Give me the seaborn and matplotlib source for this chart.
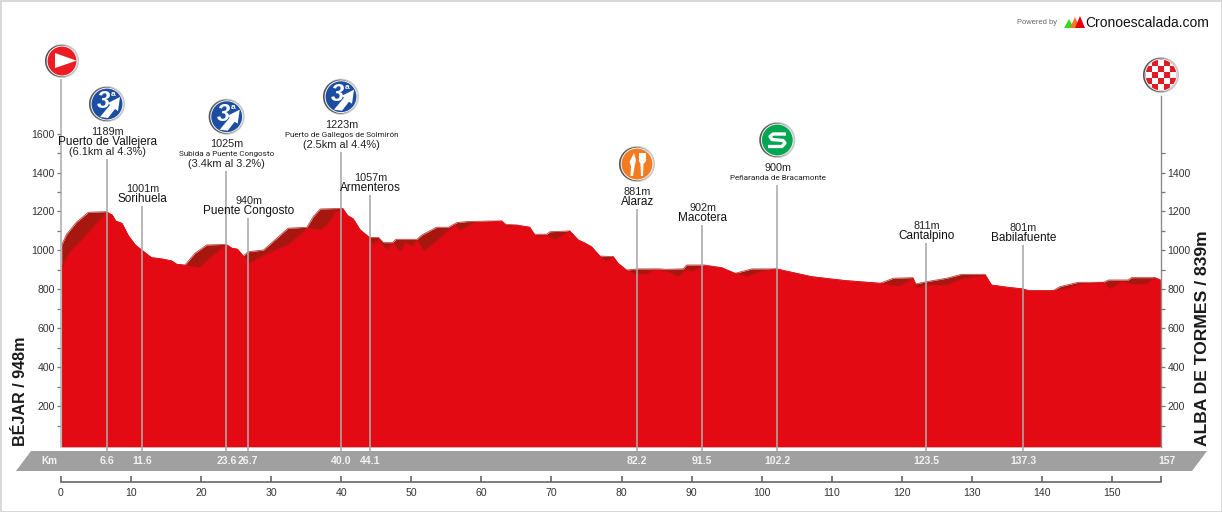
import numpy as np
import pandas as pd
import seaborn as sns
import matplotlib.pyplot as plt
from matplotlib.patches import Circle, Polygon, Rectangle

# outline of the back of the ribbon (the dark shadow shows between this and the front)
km_top = [0.1, 0.8, 2.2, 3.9, 6.5, 7.3, 7.8, 8.7, 9.6, 10.6, 11.5, 12.9, 14.4, 15.8, 16.5, 17.7, 19.1, 20.8, 23.6,
          24.4, 25.2, 26.0, 26.7, 28.9, 32.4, 35.1, 36.0, 37.0, 40.2, 40.9, 41.7, 42.7, 44.0, 45.3, 46.0, 47.3, 47.8,
          50.8, 51.5, 53.6, 55.3, 56.5, 57.9, 61.0, 62.9, 63.5, 65.0, 66.9, 67.6, 69.3, 69.8, 72.6, 73.8, 74.8, 75.7,
          76.9, 78.8, 79.5, 80.7, 82.4, 85.5, 86.2, 88.8, 89.3, 91.9, 94.3, 96.2, 98.6, 102.1, 107.1, 111.9, 116.9,
          118.8, 121.6, 122.0, 123.5, 126.4, 128.5, 131.9, 132.8, 135.2, 137.3, 138.1, 141.6, 142.6, 145.2, 148.8,
          149.5, 152.3, 152.8, 156.1, 156.9]
elev_top = [1028, 1083, 1145, 1196, 1199, 1182, 1151, 1139, 1076, 1028, 1002, 963, 956, 946, 929, 925, 985, 1028, 1031,
            1011, 1006, 971, 993, 1002, 1114, 1119, 1173, 1213, 1216, 1179, 1162, 1105, 1067, 1067, 1040, 1040, 1057,
            1057, 1079, 1119, 1119, 1143, 1148, 1151, 1151, 1134, 1131, 1119, 1083, 1083, 1096, 1100, 1054, 1037, 1019,
            971, 968, 934, 899, 905, 905, 903, 905, 925, 925, 911, 882, 905, 905, 865, 845, 831,
            857, 860, 828, 839, 857, 877, 877, 822, 810, 802, 793, 793, 814, 836, 836,
            848, 848, 860, 860, 848]

# front surface of the ribbon
km_front = [0.1, 1.3, 3.2, 6.5, 7.3, 7.8, 8.7, 9.6, 10.6, 11.5, 12.9, 14.4, 15.8, 16.5, 17.7, 19.8, 21.5, 23.6,
            24.4, 25.2, 26.0, 27.0, 28.2, 29.6, 32.4, 35.3, 37.0, 38.1, 39.1, 40.2, 40.9, 41.7, 42.7, 44.0, 44.5, 45.3,
            46.5, 47.3, 48.4, 49.2, 50.2, 50.8, 51.8, 54.1, 56.2, 56.9, 59.1, 61.0, 62.9, 63.5, 65.0, 66.9, 67.6, 69.3,
            70.5, 72.6, 73.8, 74.8, 75.7, 76.9, 77.7, 78.8, 79.5, 80.7, 81.9, 83.6, 84.5, 86.2, 88.1, 89.3, 90.0, 91.9,
            94.3, 96.2, 97.9, 100.0, 102.1, 107.1, 111.9, 116.9, 119.7, 121.6, 122.0, 123.5, 126.4, 128.5, 131.9, 132.8,
            135.2, 137.3, 138.1, 141.6, 143.5, 145.4, 148.8, 149.7, 151.4, 152.8, 154.9, 156.1, 156.9]
elev_front = [916, 993, 1062, 1196, 1182, 1151, 1139, 1076, 1028, 1002, 963, 956, 946, 929, 923, 911, 968, 1028,
              1011, 1006, 971, 934, 959, 985, 1028, 1114, 1105, 1134, 1191, 1216, 1179, 1162, 1105, 1067, 1028, 1054,
              1002, 1035, 993, 1037, 1019, 1050, 993, 1062, 1131, 1101, 1143, 1145, 1151, 1125, 1129, 1119, 1075, 1075,
              1054, 1100, 1054, 1037, 1019, 971, 942, 968, 934, 899, 877, 877, 899, 895, 865, 899, 891, 921,
              911, 882, 865, 891, 905, 865, 845, 831, 814, 855, 805, 821, 819, 852, 872, 822,
              810, 802, 793, 793, 802, 826, 836, 802, 839, 826, 826, 860, 848]

km_ticks = [0, 10, 20, 30, 40, 50, 60, 70, 80, 90, 100, 110, 120, 130, 140, 150]
elev_ticks_left = [200, 400, 600, 800, 1000, 1200, 1400, 1600]
elev_ticks_right = [200, 400, 600, 800, 1000, 1200, 1400]

stop_km = [6.6, 11.6, 23.6, 26.7, 40.0, 44.1, 82.2, 91.5, 102.2, 123.5, 137.3]
stop_km_labels = ['6.6', '11.6', '23.6', '26.7', '40.0', '44.1', '82.2', '91.5', '102.2', '123.5', '137.3']
stop_height = ['1189m', '1001m', '1025m', '940m', '1223m', '1057m', '881m', '902m', '900m', '811m', '801m']
stop_name = ['Puerto de Vallejera', 'Sorihuela', 'Subida a Puente Congosto', 'Puente Congosto',
             'Puerto de Gallegos de Solmirón', 'Armenteros', 'Alaraz', 'Macotera', 'Peñaranda de Bracamonte',
             'Cantalpino', 'Babilafuente']
stop_climb = ['(6.1km al 4.3%)', '', '(3.4km al 3.2%)', '', '(2.5km al 4.4%)', '', '', '', '', '', '']
long_names = ['Subida a Puente Congosto', 'Puerto de Gallegos de Solmirón', 'Peñaranda de Bracamonte']

start_label = 'BÉJAR / 948m'
finish_label = 'ALBA DE TORMES / 839m'

# how high each pole stands, elevation units
pole_top = [1470, 1228, 1408, 1167, 1506, 1285, 1213, 1131, 1336, 1038, 1028]

RED = '#e30a14'
DARK = '#a81610'
GREY = '#a0a0a0'

sns.set_theme(style='white')
plt.rcParams['font.family'] = ['Liberation Sans', 'DejaVu Sans']

W, H = 1222, 512
PX = 5.139  # metres per pixel
fig = plt.figure(figsize=(W / 100, H / 100), dpi=100, facecolor='white')

# main axes: 0 km at x=61, 157 km at x=1161, 0 m at y=445
base = -1.7 * PX
top = 365 * PX
ax = fig.add_axes([61 / W, (H - 446.7) / H, 1100 / W, 366.7 / H])
ax.set_xlim(0, 157)
ax.set_ylim(base, top)
ax.patch.set_alpha(0)

ax.fill_between(km_top, base, elev_top, color=DARK, lw=0, zorder=1)
ax.fill_between(km_front, base, elev_front, color=RED, lw=0, zorder=2)
sns.lineplot(x=km_top, y=elev_top, color='#b8423c', lw=0.6, errorbar=None, estimator=None, ax=ax, zorder=1.5)
sns.lineplot(x=km_front, y=elev_front, color=RED, lw=0.6, errorbar=None, estimator=None, ax=ax, zorder=2.2)

# poles and the labels stacked above them
ax.vlines(stop_km, -31, pole_top, color='#a9a9a9', lw=1.3, alpha=0.9, zorder=3, clip_on=False)
for k, t, h, n, c in zip(stop_km, pole_top, stop_height, stop_name, stop_climb):
    lines = [h, n, c] if c else [h, n]
    for i, line in enumerate(reversed(lines)):
        kw = dict(fontsize=8.5, color='#111111')
        if line == h:
            kw = dict(fontsize=7.8, color='#222222')
        elif line == c:
            kw = dict(fontsize=7.9, color='#222222')
        elif line in long_names:
            # the original squeezes these long names, no narrow face here so they just go smaller
            kw = dict(fontsize=5.9, color='#222222', family=['Roboto', 'Liberation Sans'])
        ax.annotate(line, xy=(k, t), xytext=(0.5, 7 + 10 * i), textcoords='offset pixels',
                    ha='center', va='center', annotation_clip=False, zorder=6, **kw)

for k, lab in zip(stop_km, stop_km_labels):
    ax.text(k, -16 * PX, lab, color='#f2f2f2', fontsize=7.6, fontweight='bold', ha='center', va='center', zorder=6)

ax.spines['top'].set_visible(False)
ax.spines['left'].set_color('#a9a9a9')
ax.spines['left'].set_linewidth(1.1)
ax.spines['right'].set_color('#8c8c8c')
ax.spines['right'].set_linewidth(1.0)
ax.spines['right'].set_bounds(base, 349 * PX)
ax.spines['bottom'].set_position(('outward', 25.6))
ax.spines['bottom'].set_color('#666666')
ax.spines['bottom'].set_linewidth(1.2)
ax.spines['bottom'].set_bounds(0, 157)

ax.set_xticks(km_ticks + [157])
ax.set_xticklabels([str(k) for k in km_ticks] + [''])
ax.tick_params(axis='x', direction='in', length=4, width=1.2, color='#666666', labelsize=7.6, labelcolor='#333333', pad=4, bottom=True)
ax.set_yticks(elev_ticks_left)
ax.set_yticks([100, 300, 500, 700, 900, 1100, 1300, 1500], minor=True)
ax.tick_params(axis='y', which='both', direction='out', length=3, width=0.9, color='#777777', left=True,
               labelsize=7.6, labelcolor='#333333', pad=1.5)

axr = ax.twinx()
axr.set_ylim(base, top)
axr.spines[['top', 'left', 'bottom', 'right']].set_visible(False)
axr.set_yticks(elev_ticks_right)
axr.set_yticks([100, 300, 500, 700, 900, 1100, 1300, 1500], minor=True)
axr.tick_params(axis='y', which='both', direction='out', length=3, width=0.9, color='#777777', right=True,
                labelsize=7.6, labelcolor='#333333', pad=1.5)
axr.grid(False)
ax.grid(False)

# overlay in pixel coordinates for band, frame, logo and badges
ov = fig.add_axes([0, 0, 1, 1], zorder=0)
ov.set_xlim(0, W)
ov.set_ylim(H, 0)
ov.axis('off')
ov.patch.set_alpha(0)
ax.set_zorder(2)
axr.set_zorder(3)
top_ov = fig.add_axes([0, 0, 1, 1], zorder=5)
top_ov.set_xlim(0, W)
top_ov.set_ylim(H, 0)
top_ov.axis('off')
top_ov.patch.set_alpha(0)

ov.add_patch(Rectangle((0.5, 0.5), W - 1, H - 1, fc='none', ec='#d8d8d8', lw=1.4))
ov.add_patch(Polygon([(31, 451), (1207, 451), (1192, 471), (16, 471)], fc=GREY, ec='none'))
top_ov.text(49, 461, 'Km', color='#f2f2f2', fontsize=7.2, fontweight='bold', ha='center', va='center')
top_ov.text(1167, 461, '157', color='#f2f2f2', fontsize=7.6, fontweight='bold', ha='center', va='center')

top_ov.text(21, 446, start_label, rotation=90, fontsize=11.6, fontweight='bold', color='#1a1a1a', ha='center', va='bottom')
top_ov.text(1202.5, 446, finish_label, rotation=90, fontsize=12.6, fontweight='bold', color='#1a1a1a', ha='center', va='bottom')

# logo
top_ov.text(1017, 23, 'Powered by', fontsize=5.4, color='#666666', ha='left', va='center')
top_ov.add_patch(Polygon([(1064, 28), (1069, 19), (1074, 28)], fc='#35d624', ec='none'))
top_ov.add_patch(Polygon([(1070, 28), (1075, 17), (1080, 28)], fc='#f47a20', ec='none'))
top_ov.add_patch(Polygon([(1075, 28), (1080, 16), (1085, 28)], fc='#e8000d', ec='none'))
top_ov.text(1085, 23, 'Cronoescalada.com', fontsize=10, color='#111111', ha='left', va='center')


def badge(cx, cy, color, r=18):
    # grey metal rim with a dark left side, white ring, coloured disc
    top_ov.add_patch(Circle((cx, cy), r, fc='#c9c9c9', ec='none'))
    top_ov.add_patch(Circle((cx - 1, cy), r - 1, fc='#555555', ec='none'))
    top_ov.add_patch(Circle((cx, cy), r - 1.6, fc='#f4f4f4', ec='none'))
    disc = Circle((cx, cy), r - 2.6, fc=color, ec='none')
    top_ov.add_patch(disc)
    return disc


def climb_badge(cx, cy):
    badge(cx, cy, '#1b4ea3')
    top_ov.text(cx - 3.5, cy - 2.5, '3', fontsize=17, fontweight='bold', style='italic', color='white', ha='center', va='center')
    top_ov.text(cx + 6, cy - 9, 'a', fontsize=6, fontweight='bold', color='white', ha='center', va='center')
    top_ov.add_patch(Polygon([(cx - 7, cy + 13), (cx + 3, cy + 1), (cx + 1, cy - 1), (cx + 13, cy - 7),
                              (cx + 11, cy + 7), (cx + 8, cy + 5), (cx + 1, cy + 14)], fc='white', ec='none'))


# start
badge(62, 61, '#ed1c24', r=17)
top_ov.add_patch(Polygon([(55, 53), (55, 68), (76.5, 60.7)], fc='white', ec='none'))

for cx, cy in [(107, 104), (226.7, 116.7), (341, 96.7)]:
    climb_badge(cx, cy)

# feed zone: fork and knife
badge(637, 164, '#f47b20')
top_ov.add_patch(Polygon([(634, 153), (636, 160), (634.5, 167), (633, 176), (630.5, 176), (631, 166), (629.5, 162)], fc='white', ec='none'))
top_ov.add_patch(Polygon([(639, 153), (646, 153), (646, 161), (643.5, 164), (643, 176), (641, 176), (640.5, 164), (639, 161)], fc='white', ec='none'))

# sprint: wide flat S as a thick line
badge(777.3, 140, '#00a651')
top_ov.plot([786, 773, 770, 772, 783, 785, 782, 768], [134, 134, 136.5, 139.5, 140.5, 143, 146.5, 146.5],
            color='white', lw=2.4, solid_joinstyle='round', solid_capstyle='butt')

# finish: checker clipped to the disc
disc = badge(1161, 75, '#e01b24')
for i in range(-3, 4):
    for j in range(-3, 4):
        if (i + j) % 2 == 0:
            sq = Rectangle((1161 + i * 6.2 - 3.1, 75 + j * 6.2 - 3.1), 6.2, 6.2, fc='white', ec='none')
            top_ov.add_patch(sq)
            sq.set_clip_path(disc)

fig.savefig('out.png', dpi=100)
